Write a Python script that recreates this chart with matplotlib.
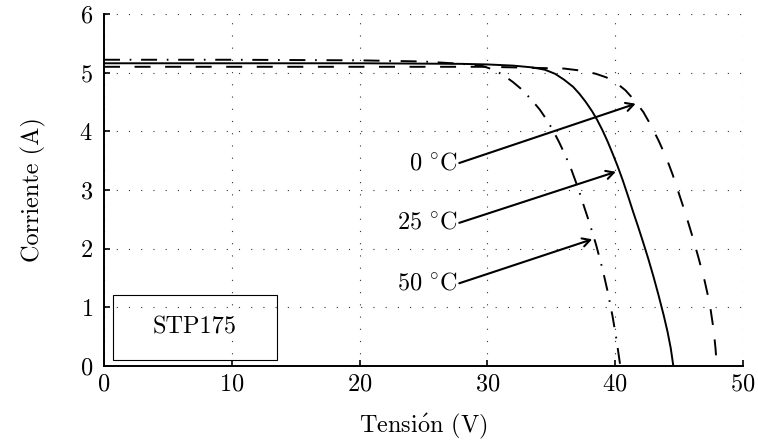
import matplotlib
matplotlib.use("Agg")
import matplotlib.pyplot as plt
from matplotlib.patches import Rectangle

plt.rcParams['font.family'] = ['cmr10']
plt.rcParams['mathtext.fontset'] = 'cm'
plt.rcParams['axes.formatter.use_mathtext'] = True
plt.rcParams['lines.scale_dashes'] = False

# I-V curves (Voltage V, Current A)
v_0C = [0, 10, 20, 30, 36.0, 37.5, 38.5, 39.3, 40.0, 40.8, 41.5, 42.2, 42.8, 43.4, 44.0, 44.5, 45.0,
        45.5, 46.0, 46.5, 47.0, 47.4, 47.7, 47.85, 47.95]
i_0C = [5.10, 5.10, 5.10, 5.10, 5.07, 5.03, 4.98, 4.92, 4.84, 4.70, 4.53, 4.33, 4.10, 3.84, 3.55, 3.26, 2.93,
        2.60, 2.24, 1.86, 1.45, 1.06, 0.62, 0.30, 0.0]

v_25C = [0, 10, 20, 28, 30, 32, 33.5, 34.5, 35.3, 36.0, 36.7, 37.2, 37.7, 38.2, 38.6, 39.0, 39.4, 39.8,
         40.2, 40.6, 41.0, 41.4, 41.8, 42.2, 42.6, 43.0, 43.4, 43.8, 44.1, 44.35, 44.55]
i_25C = [5.16, 5.16, 5.16, 5.15, 5.14, 5.12, 5.09, 5.05, 4.98, 4.88, 4.76, 4.64, 4.50, 4.34, 4.19, 4.02, 3.83, 3.62,
         3.40, 3.16, 2.90, 2.63, 2.37, 2.10, 1.82, 1.52, 1.20, 0.86, 0.58, 0.30, 0.0]

v_50C = [0, 10, 20, 25, 28, 29.5, 30.5, 31.3, 32.0, 32.6, 33.1, 33.6, 34.1, 34.6, 35.1, 35.6, 36.1, 36.6,
         37.1, 37.5, 38.0, 38.5, 39.0, 39.4, 39.8, 40.1, 40.4]
i_50C = [5.22, 5.22, 5.21, 5.19, 5.15, 5.12, 5.05, 4.95, 4.84, 4.73, 4.62, 4.50, 4.37, 4.21, 4.03, 3.82, 3.59, 3.33,
         3.03, 2.76, 2.43, 2.07, 1.66, 1.28, 0.84, 0.45, 0.0]

x_ticks = [0, 10, 20, 30, 40, 50]
y_ticks = [0, 1, 2, 3, 4, 5, 6]

labels = [r'$0\ ^{\circ}\mathrm{C}$', r'$25\ ^{\circ}\mathrm{C}$', r'$50\ ^{\circ}\mathrm{C}$']
label_tail = [(27.8, 3.46), (27.8, 2.44), (27.8, 1.41)]
label_tip = [(41.6, 4.47), (40.05, 3.31), (38.2, 2.16)]

FS = 17.5

fig = plt.figure(figsize=(7.58, 4.47), dpi=100)
ax = fig.add_axes([0.1372, 0.1812, 0.8430, 0.7875])

lw = 1.4
ax.plot(v_0C, i_0C, color='black', lw=lw, dashes=(11.5, 10.5))
ax.plot(v_25C, i_25C, color='black', lw=lw)
ax.plot(v_50C, i_50C, color='black', lw=lw, dashes=(11.5, 7.0, 1.2, 7.0))

ax.set_xlim(0, 50)
ax.set_ylim(0, 6)
ax.set_xticks(x_ticks)
ax.set_yticks(y_ticks)
ax.grid(True, color='#333333', lw=0.8, dashes=(0.8, 8.0))
ax.set_axisbelow(True)
for s in ['top', 'right']:
    ax.spines[s].set_visible(False)
for s in ['left', 'bottom']:
    ax.spines[s].set_linewidth(1.4)
ax.tick_params(direction='in', length=4, width=1.2, labelsize=FS)
ax.tick_params(axis='x', pad=5)
ax.tick_params(axis='y', pad=8)

ax.set_xlabel('Tensi' + r'$\acute{\mathrm{o}}$' + 'n (V)', fontsize=FS, labelpad=12)
ax.set_ylabel('Corriente (A)', fontsize=FS, labelpad=24)

for txt, tail, tip in zip(labels, label_tail, label_tip):
    ax.text(tail[0] - 0.1, tail[1], txt, ha='right', va='center', fontsize=FS)
    ax.annotate('', xy=tip, xytext=tail,
                arrowprops=dict(arrowstyle='->,head_length=0.55,head_width=0.3',
                                color='black', lw=1.5, shrinkA=0, shrinkB=0))

ax.add_patch(Rectangle((0.73, 0.11), 12.8, 1.10, fill=False, ec='black', lw=0.8, zorder=5))
ax.text(7.1, 0.66, 'STP175', ha='center', va='center', fontsize=FS, zorder=6)

fig.savefig('out.png', dpi=100)
